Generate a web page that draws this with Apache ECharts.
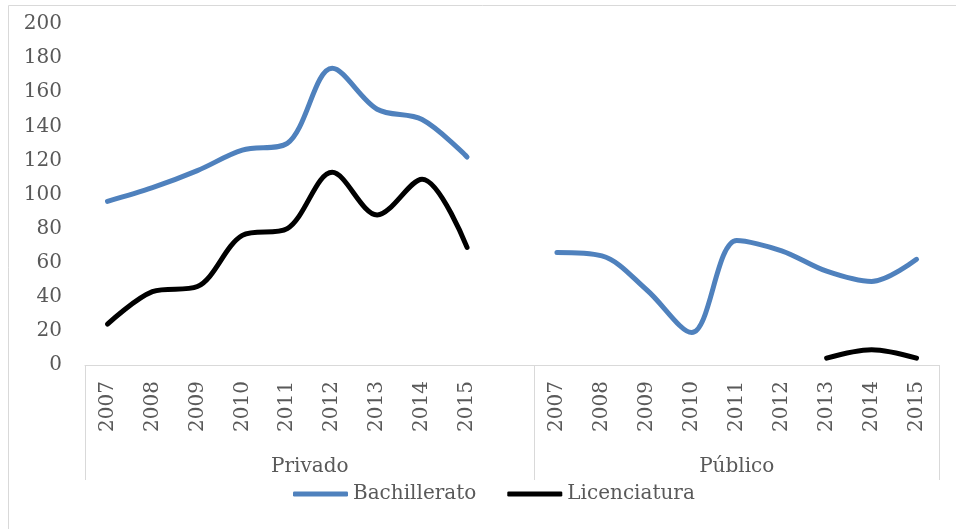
<!DOCTYPE html>
<html>
<head>
<meta charset="utf-8">
<script src="https://cdn.jsdelivr.net/npm/echarts@6/dist/echarts.min.js"></script>
<style>
  html, body { margin: 0; padding: 0; background: #fff; }
  #chart { width: 956px; height: 529px; }
</style>
</head>
<body>
<div id="chart"></div>
<script>
// years per sector; an empty slot separates Privado and Público
const years = ['2007', '2008', '2009', '2010', '2011', '2012', '2013', '2014', '2015'];
const categories = years.concat(['']).concat(years);
const groups = ['Privado', 'Público'];

const bachillerato = [96, 104, 114, 126, 130, 174, 150, 144, 122,
  null,
  66, 64, 44, 19, 73, 67, 55, 49, 62];
const licenciatura = [24, 43, 46, 76, 80, 113, 88, 109, 69,
  null,
  null, null, null, null, null, null, 4, 9, 4];

const font = 'DejaVu Serif';
const grey = '#595959';

const chart = echarts.init(document.getElementById('chart'));

const option = {
  animation: false,
  textStyle: { fontFamily: font },
  graphic: [{
    type: 'rect',
    shape: { x: 8.5, y: 5.5, width: 960, height: 540 },
    style: { fill: 'none', stroke: '#d9d9d9', lineWidth: 1 }
  }],
  grid: { left: 85, right: 17, top: 24, bottom: 164 },
  legend: {
    bottom: 20,
    left: 288,
    icon: 'roundRect',
    itemWidth: 55,
    itemHeight: 5,
    itemGap: 31,
    textStyle: { fontFamily: font, fontSize: 20, color: grey },
    data: ['Bachillerato', 'Licenciatura']
  },
  xAxis: [{
    type: 'category',
    data: categories,
    boundaryGap: true,
    axisLine: { lineStyle: { color: '#d9d9d9', width: 1 } },
    axisTick: { show: false },
    axisLabel: {
      interval: 0,
      rotate: 90,
      margin: 16,
      color: grey,
      fontFamily: font,
      fontSize: 20
    },
    splitLine: { show: false }
  }, {
    type: 'value',
    min: 0,
    max: categories.length,
    position: 'bottom',
    axisLine: { show: false },
    axisTick: {
      show: true,
      customValues: [0, years.length + 1, categories.length],
      length: 115,
      lineStyle: { color: '#d9d9d9', width: 1 }
    },
    axisLabel: {
      customValues: [(years.length + 1) / 2, years.length + 1 + years.length / 2],
      formatter: v => (v < years.length ? groups[0] : groups[1]),
      margin: 92,
      color: grey,
      fontFamily: font,
      fontSize: 20
    },
    splitLine: { show: false }
  }],
  yAxis: {
    type: 'value',
    min: 0,
    max: 200,
    interval: 20,
    axisLine: { show: false },
    axisTick: { show: false },
    splitLine: { show: false },
    axisLabel: { margin: 23, color: grey, fontFamily: font, fontSize: 20 }
  },
  series: [{
    name: 'Bachillerato',
    type: 'line',
    data: bachillerato,
    smooth: 0.33,
    symbol: 'none',
    connectNulls: false,
    lineStyle: { color: '#4f81bd', width: 5, cap: 'round' },
    itemStyle: { color: '#4f81bd' }
  }, {
    name: 'Licenciatura',
    type: 'line',
    data: licenciatura,
    smooth: 0.33,
    symbol: 'none',
    connectNulls: false,
    lineStyle: { color: '#000000', width: 5, cap: 'round' },
    itemStyle: { color: '#000000' }
  }]
};

chart.setOption(option);
</script>
</body>
</html>
